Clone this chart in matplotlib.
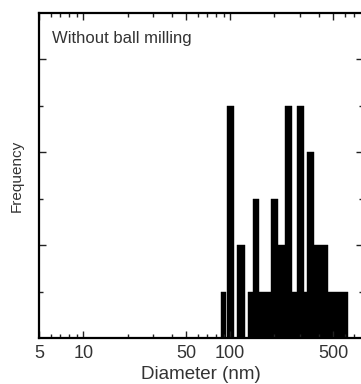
import matplotlib
matplotlib.use("Agg")
import matplotlib.pyplot as plt
import numpy as np

# histogram bins (diameter, nm) and counts
bin_left  = [85.9, 95.7, 111.2, 131.9, 142.5, 158.1, 189.4, 212.1, 236.6, 265.0, 286.0, 317.6, 331.0, 370.8, 460.0]
bin_right = [94.2, 106.1, 125.9, 142.5, 158.1, 189.4, 212.1, 236.6, 265.0, 286.0, 317.6, 331.0, 370.8, 460.0, 628.0]
counts    = [1, 5, 2, 1, 3, 1, 3, 2, 5, 1, 5, 1, 4, 2, 1]

xticks_major = [5, 10, 50, 100, 500]
xtick_labels = ["5", "10", "50", "100", "500"]
xticks_minor = [6, 7, 8, 9, 20, 30, 40, 60, 70, 80, 90, 200, 300, 400, 600, 700]

plt.rcParams['font.family'] = ['Liberation Sans', 'DejaVu Sans']

fig = plt.figure(figsize=(3.61, 3.84), dpi=100)
ax = fig.add_axes([39/361, 46/384, 324/361, 325/384])

left = np.array(bin_left)
width = np.array(bin_right) - left
ax.bar(left, counts, width=width, align='edge', color='black', edgecolor='black', linewidth=0.3)

ax.set_xscale('log')
ax.set_xlim(5, 800)
ax.set_ylim(0, 7)

ax.set_xticks(xticks_major)
ax.set_xticklabels(xtick_labels)
ax.set_xticks(xticks_minor, minor=True)
ax.set_xticklabels([], minor=True)
ax.set_yticks([2, 4, 6])
ax.set_yticks([1, 3, 5], minor=True)
ax.set_yticklabels([])

ax.tick_params(which='both', direction='in', top=True, right=True, width=1, colors='#222', labelsize=13, pad=5)
ax.tick_params(which='major', length=5)
ax.tick_params(which='minor', length=3)
ax.tick_params(axis='x', labelcolor='#333')
for s in ax.spines.values():
    s.set_linewidth(1.6)

ax.set_xlabel("Diameter (nm)", fontsize=13.5, color='#333', labelpad=3)
ax.set_ylabel("Frequency", fontsize=11, color='#333', labelpad=6)
ax.text(0.04, 0.945, "Without ball milling", transform=ax.transAxes, fontsize=12,
        color='#333', ha='left', va='top')

fig.savefig("out.png", dpi=100)
plt.close()
